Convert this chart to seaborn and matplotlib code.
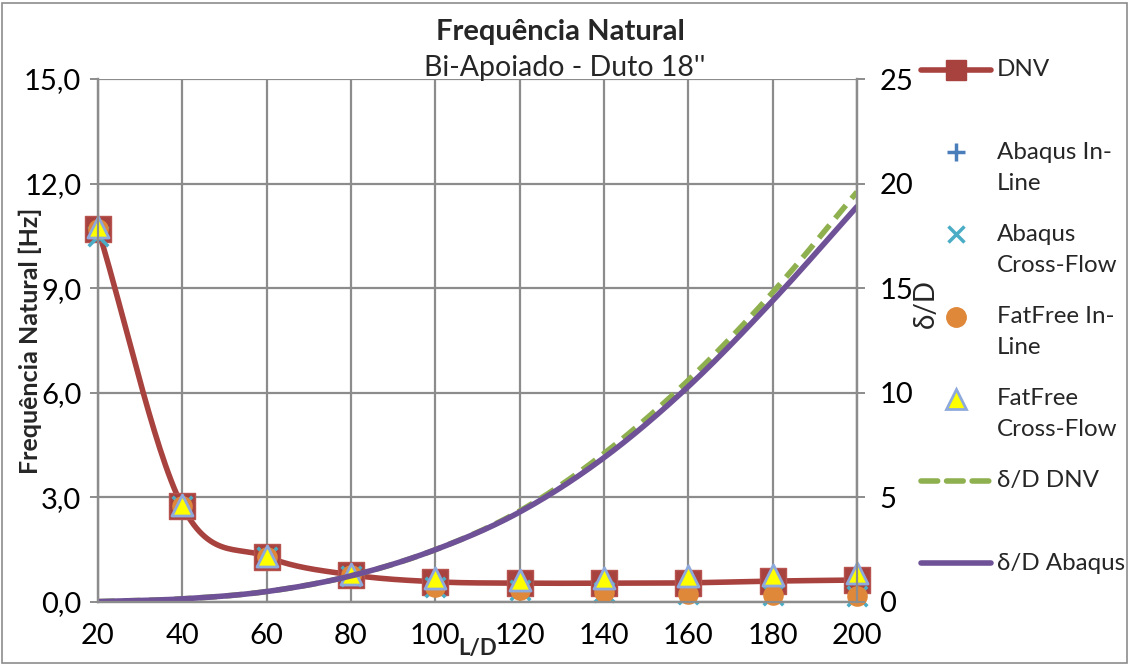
import numpy as np
import pandas as pd
import matplotlib
matplotlib.use("Agg")
import matplotlib.pyplot as plt
import seaborn as sns
from matplotlib.lines import Line2D
from matplotlib.patches import Rectangle
from matplotlib.ticker import FuncFormatter

# ---------------- data ----------------
ld = [20, 40, 60, 80, 100, 120, 140, 160, 180, 200]
freq_dnv = [10.70, 2.75, 1.30, 0.78, 0.58, 0.54, 0.54, 0.55, 0.60, 0.63]
abaqus_inline = [10.60, 2.75, 1.30, 0.76, 0.45, 0.34, 0.29, 0.23, 0.20, 0.17]
abaqus_crossflow = [10.50, 2.74, 1.29, 0.75, 0.44, 0.33, 0.28, 0.22, 0.19, 0.16]
fatfree_inline = [10.70, 2.76, 1.30, 0.77, 0.43, 0.34, 0.29, 0.23, 0.20, 0.17]
fatfree_crossflow = [10.75, 2.78, 1.32, 0.80, 0.69, 0.63, 0.69, 0.75, 0.78, 0.83]
dd_dnv = [0.02, 0.15, 0.50, 1.25, 2.50, 4.35, 7.10, 10.60, 14.80, 19.60]
dd_abaqus = [0.02, 0.15, 0.50, 1.25, 2.50, 4.30, 6.90, 10.30, 14.40, 18.90]

FONT = ["Lato", "DejaVu Sans"]
sns.set_style("white")
plt.rcParams["font.family"] = FONT


def smooth(x, y, n=30):
    """Catmull-Rom smoothing of a polyline (Excel-like smoothed line)."""
    x = np.asarray(x, float); y = np.asarray(y, float)
    P = np.column_stack([x, y])
    P = np.vstack([2 * P[0] - P[1], P, 2 * P[-1] - P[-2]])
    out = []
    t = np.linspace(0, 1, n, endpoint=False)[:, None]
    for i in range(1, len(P) - 2):
        p0, p1, p2, p3 = P[i - 1], P[i], P[i + 1], P[i + 2]
        m1 = (p2 - p0) / 6.0
        m2 = (p3 - p1) / 6.0
        b0, b1, b2, b3 = p1, p1 + m1, p2 - m2, p2
        seg = ((1 - t) ** 3) * b0 + 3 * ((1 - t) ** 2) * t * b1 + 3 * (1 - t) * t ** 2 * b2 + t ** 3 * b3
        out.append(seg)
    out.append(P[-2][None, :])
    S = np.vstack(out)
    return S[:, 0], S[:, 1]


C_DNV = "#A8423F"
C_PLUS = "#4A7EBB"
C_X = "#4BACC6"
C_CIRC = "#E0883A"
C_TRI_E = "#8EA9DB"
C_GREEN = "#8FB04F"
C_PURPLE = "#6E5196"
GRID = "#8C8C8C"

W, H = 1129, 664
fig = plt.figure(figsize=(W / 100, H / 100), dpi=100)
fig.patches.append(Rectangle((0.002, 0.002), 0.996, 0.993, transform=fig.transFigure,
                             fill=False, edgecolor="#8C8C8C", lw=1.2))

L, R, B, T = 98, 857, 602, 79
ax = fig.add_axes([L / W, (H - B) / H, (R - L) / W, (B - T) / H])
ax2 = ax.twinx()

# DNV frequency line (smoothed) + markers, in Excel series order
sx, sy = smooth(ld, freq_dnv)
sns.lineplot(x=sx, y=sy, ax=ax, color=C_DNV, lw=4, sort=False, zorder=3)
sns.scatterplot(x=ld, y=freq_dnv, ax=ax, marker="s", s=330, color=C_DNV,
                edgecolor="#B85450", linewidth=1, zorder=4, clip_on=False)
sns.scatterplot(x=ld, y=abaqus_inline, ax=ax, marker="+", s=170, color=C_PLUS,
                linewidth=2.5, zorder=5, clip_on=False)
sns.scatterplot(x=ld, y=abaqus_crossflow, ax=ax, marker="x", s=200, color=C_X,
                linewidth=2.5, zorder=6, clip_on=False)
sns.scatterplot(x=ld, y=fatfree_inline, ax=ax, marker="o", s=220, color=C_CIRC,
                edgecolor=C_CIRC, linewidth=0, zorder=7, clip_on=False)
sns.scatterplot(x=ld, y=fatfree_crossflow, ax=ax, marker="^", s=230, color="#FFFF00",
                edgecolor=C_TRI_E, linewidth=2, zorder=8, clip_on=False)

# delta/D curves on secondary axis
gx, gy = smooth(ld, dd_dnv)
px_, py_ = smooth(ld, dd_abaqus)
sns.lineplot(x=gx, y=gy, ax=ax2, color=C_GREEN, lw=4, sort=False,
             linestyle=(0, (3, 1.6)))
sns.lineplot(x=px_, y=py_, ax=ax2, color=C_PURPLE, lw=4, sort=False)

ax.set_xlim(20, 200)
ax.set_ylim(0, 15)
ax2.set_ylim(0, 25)
ax.set_xticks(np.arange(20, 201, 20))
ax.set_yticks(np.arange(0, 15.1, 3))
ax2.set_yticks(np.arange(0, 26, 5))
ax.yaxis.set_major_formatter(FuncFormatter(lambda v, p: f"{v:.1f}".replace(".", ",")))

ax.grid(True, color=GRID, lw=1.6)
ax.set_axisbelow(True)
for a in (ax, ax2):
    for s in a.spines.values():
        s.set_color(GRID); s.set_linewidth(1.6)
    a.tick_params(colors=GRID, labelcolor="black", length=6, width=1.4, labelsize=21,
                  direction="out")
ax.spines["top"].set_visible(False)
ax2.spines["top"].set_visible(False)
ax.tick_params(axis="x", pad=9)
ax.tick_params(axis="y", pad=6)
ax2.tick_params(axis="y", pad=10)
for lab in ax.get_xticklabels() + ax.get_yticklabels() + ax2.get_yticklabels():
    lab.set_family(FONT)

ax.set_xlabel("")
ax.set_ylabel("")
ax2.set_ylabel("")
fig.text(478 / W, 1 - 649 / H, "L/D", ha="center", va="center", fontsize=16,
         fontweight="bold")
fig.text(30 / W, 1 - 341 / H, "Frequência Natural [Hz]", ha="center", va="center",
         rotation=90, fontsize=18, fontweight="bold")
fig.text(926 / W, 1 - 304 / H, "δ/D", ha="center", va="center", rotation=90,
         fontsize=20)

fig.text(560 / W, 1 - 32 / H, "Frequência Natural", ha="center", va="center",
         fontsize=21, fontweight="bold")
fig.text(565 / W, 1 - 68 / H, "Bi-Apoiado - Duto 18''", ha="center", va="center",
         fontsize=20.5)

# ---------------- legend (Excel style) ----------------
entries = [
    ("DNV", dict(color=C_DNV, lw=4, marker="s", ms=15, mec=C_DNV)),
    ("Abaqus In-\nLine", dict(color=C_PLUS, lw=0, marker="+", ms=13, mew=2.5)),
    ("Abaqus\nCross-Flow", dict(color=C_X, lw=0, marker="x", ms=12, mew=2.5)),
    ("FatFree In-\nLine", dict(color=C_CIRC, lw=0, marker="o", ms=14)),
    ("FatFree\nCross-Flow", dict(color="#FFFF00", lw=0, marker="^", ms=14, mec=C_TRI_E, mew=2)),
    ("δ/D DNV", dict(color=C_GREEN, lw=4, linestyle=(0, (3, 1.6)))),
    ("δ/D Abaqus", dict(color=C_PURPLE, lw=4)),
]
x0, x1, xt = 921, 991, 997
for i, (lab, kw) in enumerate(entries):
    y = 70 + 82.2 * i
    yy = 1 - y / H
    ln = Line2D([x0 / W, x1 / W], [yy, yy], transform=fig.transFigure,
                solid_capstyle="round", dash_capstyle="round", **{k: v for k, v in kw.items() if k not in ("marker", "ms", "mec", "mew")})
    if kw.get("lw", 0) > 0:
        fig.lines.append(ln)
    if "marker" in kw:
        mk = Line2D([(x0 + x1) / 2 / W], [yy], transform=fig.transFigure, lw=0,
                    marker=kw["marker"], ms=kw["ms"], color=kw["color"],
                    mec=kw.get("mec", kw["color"]), mew=kw.get("mew", 1))
        fig.lines.append(mk)
    for j, part in enumerate(lab.split("\n")):
        fig.text(xt / W, 1 - (y + 31 * j) / H, part, ha="left", va="center", fontsize=17.4)

fig.savefig("out.png", dpi=100)
